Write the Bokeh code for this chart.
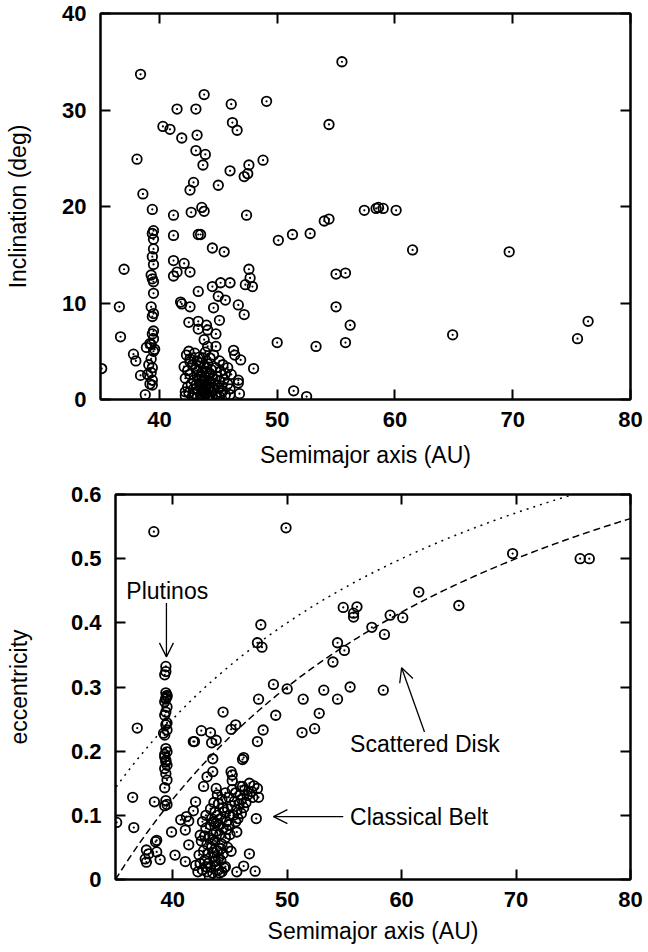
from bokeh.plotting import figure
from bokeh.models import FixedTicker, LinearAxis, Arrow, OpenHead, Label
from bokeh.embed import file_html
from bokeh.resources import INLINE
import numpy as np

FONT = "Liberation Sans"

# ---------------- Top panel: semimajor axis vs inclination ----------------
a_inc = [
    38.4, 55.5, 43.8, 41.5, 43.1, 46.1, 49.1, 54.4, 40.3, 40.9, 43.2, 46.2, 46.6, 41.9, 43.1, 43.9,
    43.7, 38.1, 48.8, 46.0, 47.6, 47.5, 47.2, 42.9, 42.6, 45.0, 38.6,
    39.4, 41.2, 42.7, 43.6, 43.8, 47.4, 50.1, 51.3, 52.8, 54.0, 54.4, 57.4, 58.4, 58.6, 59.0, 60.1,
    61.5, 69.7,
    39.5, 39.4, 39.5, 39.5, 39.4, 39.5, 39.3, 39.4, 39.5, 39.5, 39.3, 39.5, 39.4, 39.5, 39.4, 39.5,
    39.3, 39.6, 39.5, 39.3, 39.4, 39.3, 39.4, 39.4, 39.1, 39.0, 39.2,
    37.0, 36.6, 36.7, 35.1, 37.8, 38.0, 38.4, 38.8, 38.9, 39.2,
    41.2, 43.3, 43.5, 41.2, 42.1, 41.5, 41.2, 42.6, 44.5, 45.5, 47.6, 47.7, 47.3, 47.9, 44.5, 45.2,
    46.0, 43.3, 45.0, 45.6, 46.7, 41.8, 41.9, 42.6, 44.6, 47.2, 45.1, 42.5, 43.3, 44.0, 43.3, 44.1,
    44.8, 43.8, 44.1, 42.5, 44.8, 46.3, 46.4, 46.9, 48.0, 50.0, 53.3, 55.0, 55.8, 55.0, 55.8, 56.2,
    51.4, 52.5, 46.7, 46.7, 46.0, 46.8, 46.0, 64.9, 76.4, 75.5,
    42.3, 42.6, 43.0, 43.4, 43.9, 44.3, 44.6, 45.1, 45.4, 45.8, 42.1, 42.4, 42.8, 43.1, 43.5, 43.8,
    44.1, 44.4, 44.8, 45.2, 45.6, 46.1, 42.2, 42.6, 42.9, 43.2, 43.4, 43.6, 43.7, 43.9, 44.0, 44.2,
    44.3, 44.5, 44.7, 44.9, 45.1, 45.3, 45.5, 45.8, 42.4, 42.7, 42.9, 43.1, 43.3, 43.4, 43.5, 43.6,
    43.7, 43.8, 43.9, 44.0, 44.1, 44.2, 44.3, 44.4, 44.6, 44.8, 45.0, 45.2, 45.4, 42.2, 42.5, 42.8,
    43.0, 43.2, 43.5, 43.7, 43.9, 44.1, 44.5, 45.1, 45.6, 43.3, 43.6, 44.0, 43.8, 43.5, 44.2, 44.0,
    43.2, 42.6, 43.7, 44.3, 42.2,
]
inc = [
    33.7, 35.0, 31.6, 30.1, 30.1, 30.6, 30.9, 28.5, 28.3, 28.0, 27.4, 28.7, 27.9, 27.1, 25.8, 25.4,
    24.3, 24.9, 24.8, 23.7, 24.3, 23.4, 23.1, 22.5, 21.7, 22.2, 21.3,
    19.7, 19.1, 19.4, 19.9, 19.5, 19.1, 16.5, 17.1, 17.2, 18.5, 18.7, 19.6, 19.8, 19.9, 19.8, 19.6,
    15.5, 15.3,
    17.5, 17.2, 16.6, 15.6, 14.8, 14.0, 12.9, 12.5, 12.2, 11.0, 9.6, 8.9, 8.6, 7.1, 6.8, 6.3,
    5.7, 5.2, 5.0, 4.2, 3.3, 2.8, 2.0, 1.5, 3.6, 2.6, 1.6,
    13.5, 9.6, 6.5, 3.2, 4.7, 4.0, 2.5, 0.5, 5.4, 5.8,
    17.0, 17.1, 17.1, 14.4, 14.1, 13.2, 12.8, 13.2, 15.7, 15.3, 13.5, 12.6, 11.9, 11.7, 11.7, 12.1,
    12.1, 11.2, 10.7, 10.3, 9.8, 10.1, 9.9, 9.6, 9.5, 8.8, 8.2, 8.0, 8.1, 7.7, 7.3, 7.2,
    6.8, 6.2, 5.5, 5.0, 5.5, 5.1, 4.6, 4.1, 3.2, 5.9, 5.5, 13.0, 13.1, 9.6, 5.9, 7.7,
    0.9, 0.3, 1.7, 2.0, 1.1, 0.6, 0.5, 6.7, 8.1, 6.3,
    4.6, 4.2, 4.8, 4.4, 4.9, 4.3, 4.6, 4.0, 3.6, 3.3, 3.4, 3.0, 3.6, 3.2, 3.8, 3.4,
    3.7, 3.1, 3.3, 2.9, 2.7, 2.6, 2.2, 2.6, 2.0, 2.5, 2.1, 2.8, 1.8, 2.3, 1.5, 2.6,
    1.9, 2.2, 1.6, 2.4, 1.9, 1.4, 2.1, 1.6, 1.3, 1.6, 1.1, 1.5, 0.9, 1.7, 1.2, 0.6,
    1.4, 0.9, 1.2, 0.7, 1.1, 0.4, 1.3, 0.8, 1.0, 0.5, 1.2, 0.7, 0.9, 0.4, 0.7, 0.3,
    0.6, 0.2, 0.4, 0.2, 0.5, 0.2, 0.3, 0.3, 0.5, 3.0, 2.4, 2.9, 2.0, 1.6, 1.7, 3.3,
    4.0, 3.9, 4.3, 2.7, 0.8,
]

# ---------------- Bottom panel: semimajor axis vs eccentricity ----------------
a_ecc = [
    38.35, 49.9, 69.7, 75.6, 76.4, 61.5, 65.0, 54.9, 56.1, 55.8, 55.8, 59.0, 60.1, 57.4, 58.5, 54.4,
    55.0, 54.0, 47.7, 47.4, 47.8, 53.2, 55.5, 58.4, 54.4, 51.4, 52.8, 52.4, 51.3, 48.8, 50.0, 47.5,
    49.0, 44.4, 47.9, 47.4, 45.5, 45.1, 42.5, 43.3, 41.8, 41.9, 43.4, 43.8, 43.5, 46.1, 46.2, 43.5,
    43.0, 45.1, 45.2, 45.2, 42.7, 43.8, 47.3, 46.7, 46.2, 47.2, 45.6, 45.6, 45.1, 42.0, 41.8, 41.2,
    40.7, 41.4, 41.1, 39.9, 40.2, 41.1, 41.4, 42.0, 42.4, 36.9, 36.5, 38.4, 35.1, 36.6, 37.7, 37.9,
    37.6, 37.7, 38.6, 38.5, 38.6, 38.9,
    39.4, 39.4, 39.3, 39.4, 39.5, 39.4, 39.3, 39.5, 39.4, 39.3, 39.4, 39.5, 39.3, 39.4, 39.5, 39.3,
    39.4, 39.5, 39.3, 39.4, 39.5, 39.3, 39.4, 39.5, 39.3, 39.5, 39.4, 39.2, 39.5, 39.3, 39.4,
    46.1, 46.7, 47.4, 47.5, 46.9, 46.5, 46.3, 47.1, 46.0, 45.8, 46.4, 45.6, 46.2, 45.9, 47.0, 45.3,
    45.5,
    42.4, 42.6, 42.8, 43.0, 43.1, 43.3, 43.4, 43.5, 43.6, 43.7, 43.8, 43.9, 44.0, 44.1, 44.2, 44.3,
    44.0, 43.8, 43.6, 43.9, 44.2, 44.4, 44.5, 44.7, 44.6, 44.8, 45.0, 45.1, 43.2, 43.0, 42.7, 42.5,
    42.9, 43.3, 43.5, 44.4, 44.6, 44.1, 43.2, 42.9, 43.7, 44.3, 43.4, 43.7, 44.0, 44.3, 44.6, 44.9,
    45.2, 45.4, 45.5, 43.9, 43.6, 43.3, 42.9, 42.6, 45.9, 46.0, 45.7, 44.8, 45.0, 44.5, 42.3, 42.2,
    43.1, 43.6, 44.2, 43.5, 44.0, 44.7, 44.4, 42.8, 43.8, 44.9,
]
ecc = [
    0.542, 0.548, 0.508, 0.500, 0.500, 0.448, 0.427, 0.424, 0.425, 0.415, 0.409, 0.412, 0.408, 0.393, 0.382, 0.369,
    0.357, 0.339, 0.397, 0.369, 0.362, 0.295, 0.300, 0.295, 0.281, 0.281, 0.259, 0.235, 0.229, 0.304, 0.297, 0.281,
    0.256, 0.261, 0.233, 0.215, 0.241, 0.234, 0.232, 0.229, 0.215, 0.215, 0.213, 0.217, 0.188, 0.187, 0.190, 0.168,
    0.160, 0.168, 0.163, 0.154, 0.145, 0.142, 0.095, 0.040, 0.021, 0.013, 0.012, 0.074, 0.044, 0.121, 0.107, 0.098,
    0.093, 0.091, 0.077, 0.074, 0.038, 0.028, 0.054, 0.022, 0.069, 0.236, 0.128, 0.121, 0.089, 0.081, 0.046, 0.040,
    0.032, 0.027, 0.061, 0.059, 0.043, 0.031,
    0.332, 0.324, 0.319, 0.291, 0.285, 0.281, 0.277, 0.269, 0.261, 0.256, 0.241, 0.233, 0.225, 0.204, 0.199, 0.191,
    0.186, 0.178, 0.173, 0.165, 0.155, 0.143, 0.123, 0.117, 0.115, 0.287, 0.283, 0.228, 0.244, 0.195, 0.183,
    0.145, 0.150, 0.142, 0.128, 0.137, 0.131, 0.140, 0.146, 0.125, 0.118, 0.120, 0.108, 0.112, 0.132, 0.128, 0.100,
    0.090,
    0.025, 0.015, 0.030, 0.012, 0.040, 0.020, 0.050, 0.010, 0.035, 0.060, 0.022, 0.045, 0.015, 0.070, 0.030, 0.055,
    0.085, 0.075, 0.090, 0.100, 0.095, 0.080, 0.105, 0.090, 0.065, 0.110, 0.100, 0.115, 0.065, 0.055, 0.045, 0.060,
    0.080, 0.085, 0.070, 0.040, 0.020, 0.010, 0.005, 0.020, 0.028, 0.012, 0.095, 0.105, 0.118, 0.125, 0.135, 0.128,
    0.140, 0.122, 0.135, 0.132, 0.120, 0.110, 0.100, 0.090, 0.145, 0.103, 0.095, 0.050, 0.070, 0.018, 0.038, 0.012,
    0.025, 0.042, 0.048, 0.062, 0.033, 0.078, 0.112, 0.068, 0.088, 0.085,
]

# perihelion distances of the two reference curves (AU): e = 1 - q/a
q_dotted = 30.0
q_dashed = 35.0

x_ticks = [40, 50, 60, 70, 80]
inc_ticks = [0, 10, 20, 30, 40]
ecc_ticks = [0, 0.1, 0.2, 0.3, 0.4, 0.5, 0.6]


def style(p, xt, yt, x_label, y_label, y_label_standoff, x_label_standoff):
    p.grid.visible = False
    p.outline_line_color = "black"
    p.outline_line_width = 2
    p.xaxis.ticker = FixedTicker(ticks=xt)
    p.yaxis.ticker = FixedTicker(ticks=yt)
    p.xaxis.axis_label = x_label
    p.yaxis.axis_label = y_label
    for ax in p.xaxis + p.yaxis:
        ax.major_tick_in = 10
        ax.major_tick_out = 0
        ax.minor_tick_line_color = None
        ax.axis_line_width = 2
        ax.major_tick_line_width = 2
        ax.major_label_text_font = FONT
        ax.major_label_text_font_style = "bold"
        ax.major_label_text_font_size = "22px"
        ax.major_label_text_color = "black"
        ax.axis_label_text_font = FONT
        ax.axis_label_text_font_style = "normal"
        ax.axis_label_text_font_size = "23px"
        ax.axis_label_text_color = "black"
    p.xaxis.major_label_standoff = 12
    p.xaxis.axis_label_standoff = x_label_standoff
    p.yaxis.major_label_standoff = 14
    p.yaxis.axis_label_standoff = y_label_standoff
    # mirrored inward ticks on top and right (no labels drawn)
    top = LinearAxis(ticker=FixedTicker(ticks=xt), major_tick_in=10, major_tick_out=0,
                     major_tick_line_width=2, minor_tick_line_color=None, axis_line_width=2,
                     major_label_text_color=None, major_label_text_alpha=0,
                     major_label_text_font_size="1px", major_label_standoff=0)
    right = LinearAxis(ticker=FixedTicker(ticks=yt), major_tick_in=10, major_tick_out=0,
                       major_tick_line_width=2, minor_tick_line_color=None, axis_line_width=2,
                       major_label_text_color=None, major_label_text_alpha=0,
                       major_label_text_font_size="1px", major_label_standoff=0)
    p.add_layout(top, "above")
    p.add_layout(right, "right")


def markers(p, xs, ys):
    p.scatter(xs, ys, marker="circle", size=9.5, fill_color=None,
              line_color="black", line_width=1.8)
    p.scatter(xs, ys, marker="circle", size=2.2, fill_color="black",
              line_color=None)


# ---------------- Top figure ----------------
p1 = figure(width=648, height=475, x_range=(35, 80), y_range=(0, 40),
            output_backend="svg", toolbar_location=None,
            min_border_left=100, min_border_right=18, min_border_top=13, min_border_bottom=76)
style(p1, x_ticks, inc_ticks, "Semimajor axis (AU)", "Inclination (deg)", 28, 12)
markers(p1, a_inc, inc)

# ---------------- Bottom figure ----------------
p2 = figure(width=648, height=477, x_range=(35, 80), y_range=(0, 0.6),
            output_backend="svg", toolbar_location=None,
            min_border_left=115, min_border_right=18, min_border_top=19, min_border_bottom=73)
style(p2, x_ticks, ecc_ticks, "Semimajor axis (AU)", "eccentricity", 36, 8)
p2.yaxis.major_label_overrides = {0: "0"}

a_curve = np.linspace(34.0, 80.0, 300)
p2.line(a_curve, 1.0 - q_dotted / a_curve, line_color="black", line_width=1.5, line_dash="2 5")
p2.line(a_curve, 1.0 - q_dashed / a_curve, line_color="black", line_width=1.5, line_dash="7 4")
markers(p2, a_ecc, ecc)

for (x0, y0, x1, y1) in [(39.45, 0.431, 39.45, 0.347),
                         (62.0, 0.230, 60.0, 0.330),
                         (54.9, 0.098, 48.8, 0.098)]:
    p2.add_layout(Arrow(x_start=x0, y_start=y0, x_end=x1, y_end=y1, line_width=1.3,
                        line_color="black",
                        end=OpenHead(size=14, line_width=1.3, line_color="black")))

for txt, x, y in [("Plutinos", 35.95, 0.450), ("Scattered Disk", 55.5, 0.211),
                  ("Classical Belt", 55.5, 0.098)]:
    p2.add_layout(Label(x=x, y=y, text=txt, text_font=FONT, text_font_size="23px",
                        text_baseline="middle", text_align="left", text_color="black"))

open("out.html", "w").write(file_html([p1, p2], INLINE))
